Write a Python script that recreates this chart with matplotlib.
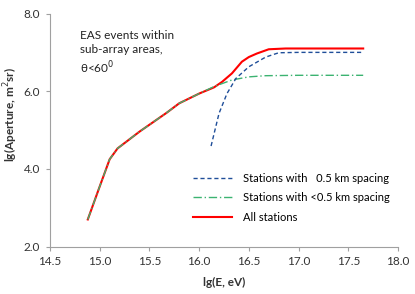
import matplotlib.pyplot as plt

plt.rcParams['font.family'] = ['Lato', 'DejaVu Sans']

# all stations
lgE_all = [14.88, 15.00, 15.10, 15.18, 15.40, 15.67, 15.80, 16.00, 16.15, 16.23,
           16.33, 16.43, 16.50, 16.58, 16.70, 16.87, 17.20, 17.65]
ap_all = [2.70, 3.55, 4.25, 4.53, 4.96, 5.44, 5.69, 5.94, 6.10, 6.24,
          6.46, 6.76, 6.88, 6.97, 7.08, 7.10, 7.10, 7.10]

# stations with <0.5 km spacing
lgE_small = [14.88, 15.00, 15.10, 15.18, 15.40, 15.67, 15.80, 16.00, 16.15,
             16.33, 16.50, 16.67, 17.00, 17.65]
ap_small = [2.70, 3.55, 4.25, 4.53, 4.96, 5.44, 5.69, 5.94, 6.12,
            6.29, 6.37, 6.40, 6.41, 6.41]

# stations with 0.5 km spacing
lgE_big = [16.12, 16.20, 16.28, 16.37, 16.50, 16.67, 16.80, 17.00, 17.65]
ap_big = [4.59, 5.43, 5.94, 6.33, 6.63, 6.88, 6.99, 7.00, 7.00]

fig = plt.figure(figsize=(4.15, 2.94), dpi=100)
ax = fig.add_axes([0.1205, 0.161, 0.8385, 0.793])

l3, = ax.plot(lgE_all, ap_all, color='#ff0000', lw=1.5, label='All stations')
l2, = ax.plot(lgE_small, ap_small, color='#3cb371', lw=1.0, ls=(0, (6, 2, 1, 2)),
              label='Stations with <0.5 km spacing')
l1, = ax.plot(lgE_big, ap_big, color='#1f4e99', lw=1.0, ls=(0, (3, 2)),
              label='Stations with   0.5 km spacing')

ax.set_xlim(14.5, 18.0)
ax.set_ylim(2.0, 8.0)
ax.set_xticks([14.5, 15.0, 15.5, 16.0, 16.5, 17.0, 17.5, 18.0])
ax.set_yticks([2.0, 4.0, 6.0, 8.0])
ax.xaxis.set_major_formatter(plt.FormatStrFormatter('%.1f'))
ax.yaxis.set_major_formatter(plt.FormatStrFormatter('%.1f'))
for s in ['top', 'right']:
    ax.spines[s].set_visible(False)
for s in ['left', 'bottom']:
    ax.spines[s].set_color('#a0a0a0')
    ax.spines[s].set_linewidth(0.8)
ax.tick_params(direction='out', length=3, color='#a0a0a0', labelsize=8.5,
               labelcolor='#333333', pad=4)

ax.set_xlabel('lg(E, eV)', fontsize=8.5, fontweight='bold', color='#333333')
ax.set_ylabel('lg(Aperture, m$^2$sr)', fontsize=8.5, fontweight='bold', color='#333333')
ax.xaxis.set_label_coords(0.5, -0.13)
ax.yaxis.set_label_coords(-0.085, 0.565)

ax.text(0.086, 0.93, 'EAS events within\nsub-array areas,\nθ<60$^0$', transform=ax.transAxes,
        fontsize=8.5, va='top', ha='left', color='#222222', linespacing=1.35)

ax.legend(handles=[l1, l2, l3], loc='lower right', bbox_to_anchor=(1.005, 0.06),
          frameon=False, fontsize=8, handlelength=3.5, handletextpad=1.0,
          labelspacing=0.75)

fig.savefig('out.png', dpi=100)
